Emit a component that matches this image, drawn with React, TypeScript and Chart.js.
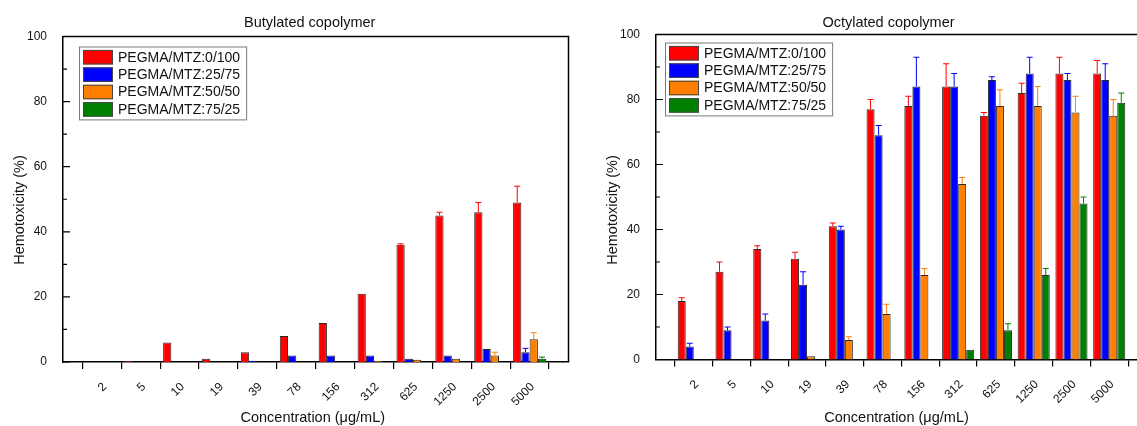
import React, { useEffect, useRef } from 'react';
import { Chart, registerables } from 'chart.js';

Chart.register(...registerables);

const FONT = '"Liberation Sans", Arial, Helvetica, sans-serif';

// ---- data ----
const concentrations = ['2', '5', '10', '19', '39', '78', '156', '312', '625', '1250', '2500', '5000'];
const seriesNames = ['PEGMA/MTZ:0/100', 'PEGMA/MTZ:25/75', 'PEGMA/MTZ:50/50', 'PEGMA/MTZ:75/25'];
const seriesColors = ['#FF0000', '#0000FF', '#FF8000', '#008000'];
const yTickValues = [0, 10, 20, 30, 40, 50, 60, 70, 80, 90, 100];

// Butylated copolymer
const butyl0_100 = [null, 0.3, 6, 1, 3, 8, 12, 21, 36, 45, 46, 49];
const butyl0_100Err = [0, 0, 0, 0, 0, 0, 0, 0, 0.3, 1, 3, 5];
const butyl25_75 = [null, null, null, null, 0.4, 2, 2, 2, 1, 2, 4, 3];
const butyl25_75Err = [0, 0, 0, 0, 0, 0, 0, 0, 0, 0, 0, 1.2];
const butyl50_50 = [null, null, null, null, null, null, null, 0.3, 0.7, 1, 2, 7];
const butyl50_50Err = [0, 0, 0, 0, 0, 0, 0, 0, 0, 0, 1, 2];
const butyl75_25 = [null, null, null, null, null, null, null, null, null, null, null, 1];
const butyl75_25Err = [0, 0, 0, 0, 0, 0, 0, 0, 0, 0, 0, 0.5];

// Octylated copolymer
const octyl0_100 = [18, 27, 34, 31, 41, 77, 78, 84, 75, 82, 88, 88];
const octyl0_100Err = [1, 3, 1, 2, 1, 3, 3, 7, 1, 3, 5, 4];
const octyl25_75 = [4, 9, 12, 23, 40, 69, 84, 84, 86, 88, 86, 86];
const octyl25_75Err = [1, 1, 2, 4, 1, 3, 9, 4, 1, 5, 2, 5];
const octyl50_50 = [null, null, null, 1, 6, 14, 26, 54, 78, 78, 76, 75];
const octyl50_50Err = [0, 0, 0, 0, 1, 3, 2, 2, 5, 6, 5, 5];
const octyl75_25 = [null, null, null, null, null, null, null, 3, 9, 26, 48, 79];
const octyl75_25Err = [0, 0, 0, 0, 0, 0, 0, 0, 2, 2, 2, 3];

type Spec = {
  title: string;
  values: (number | null)[][];
  errors: number[][];
  canvasW: number;
  yAxisW: number;
  padRight: number;
  padTop: number;
  xAxisH: number;
  titleDx: number;
  xTitleDx: number;
  legendDx: number;
  legendDy: number;
};

function buildChart(canvas: HTMLCanvasElement, spec: Spec) {
  const labels = ['', ...concentrations, ''];
  const datasets = spec.values.map((vals, i) => ({
    label: seriesNames[i],
    data: [null, ...vals, null],
    errors: [0, ...spec.errors[i], 0],
    backgroundColor: seriesColors[i],
    borderColor: '#2a2a2a',
    borderWidth: 1,
    borderSkipped: 'start',
    categoryPercentage: 0.85,
    barPercentage: 1,
  }));

  const decor = {
    id: 'decor',
    afterDatasetsDraw(chart: any) {
      const ctx = chart.ctx;
      const ys = chart.scales.y;
      chart.data.datasets.forEach((ds: any, i: number) => {
        const meta = chart.getDatasetMeta(i);
        meta.data.forEach((el: any, j: number) => {
          const v = ds.data[j];
          const e = ds.errors[j];
          if (v == null || !e) return;
          const yTop = ys.getPixelForValue(v + e);
          ctx.save();
          ctx.strokeStyle = seriesColors[i];
          ctx.lineWidth = 1;
          ctx.beginPath();
          ctx.moveTo(el.x, el.y);
          ctx.lineTo(el.x, yTop);
          ctx.moveTo(el.x - 3, yTop);
          ctx.lineTo(el.x + 3, yTop);
          ctx.stroke();
          ctx.restore();
        });
      });
    },
    afterDraw(chart: any) {
      const ctx = chart.ctx;
      const a = chart.chartArea;
      const ys = chart.scales.y;
      const xs = chart.scales.x;
      ctx.save();
      // frame top / right
      ctx.strokeStyle = '#000';
      ctx.lineWidth = 1.5;
      ctx.beginPath();
      ctx.moveTo(a.left, a.top);
      ctx.lineTo(a.right, a.top);
      ctx.lineTo(a.right, a.bottom);
      ctx.stroke();
      // inward y ticks
      ctx.lineWidth = 1.2;
      ctx.beginPath();
      yTickValues.forEach((v) => {
        const y = ys.getPixelForValue(v);
        const len = v % 20 === 0 ? 7 : 4;
        ctx.moveTo(a.left, y);
        ctx.lineTo(a.left + len, y);
      });
      ctx.stroke();
      // rotated x tick labels
      ctx.fillStyle = '#111';
      ctx.font = `12px ${FONT}`;
      ctx.textAlign = 'right';
      ctx.textBaseline = 'middle';
      concentrations.forEach((c, i) => {
        const x = xs.getPixelForValue(i + 1);
        ctx.save();
        ctx.translate(x + 3, a.bottom + 23);
        ctx.rotate(-Math.PI / 4);
        ctx.fillText(c, 0, 0);
        ctx.restore();
      });
      // titles
      ctx.textAlign = 'center';
      ctx.textBaseline = 'middle';
      ctx.font = `14.5px ${FONT}`;
      const cx = (a.left + a.right) / 2;
      ctx.fillText(spec.title, cx + spec.titleDx, 23);
      ctx.fillText('Concentration (\u03BCg/mL)', cx + spec.xTitleDx, 418);
      ctx.save();
      ctx.translate(a.left - 43, 210);
      ctx.rotate(-Math.PI / 2);
      ctx.fillText('Hemotoxicity (%)', 0, 0);
      ctx.restore();
      // legend
      ctx.font = `14px ${FONT}`;
      const names = chart.data.datasets.map((d: any) => d.label);
      const tw = Math.max(...names.map((n: string) => ctx.measureText(n).width));
      const bx = a.left + spec.legendDx;
      const by = a.top + spec.legendDy;
      const bw = 39 + tw + 6;
      const rowH = 17.4;
      const bh = 10.7 + rowH * 3 + 10;
      ctx.fillStyle = '#fff';
      ctx.fillRect(bx, by, bw, bh);
      ctx.strokeStyle = '#7a7a7a';
      ctx.lineWidth = 1;
      ctx.strokeRect(bx + 0.5, by + 0.5, bw, bh);
      names.forEach((n: string, i: number) => {
        const cy = by + 10.7 + i * rowH;
        ctx.fillStyle = seriesColors[i];
        ctx.fillRect(bx + 4, cy - 7.25, 30, 14.5);
        ctx.strokeStyle = '#444';
        ctx.strokeRect(bx + 4.5, cy - 6.75, 29, 13.5);
        ctx.fillStyle = '#111';
        ctx.textAlign = 'left';
        ctx.fillText(n, bx + 39, cy + 0.5);
      });
      ctx.restore();
    },
  };

  return new Chart(canvas, {
    type: 'bar',
    data: { labels, datasets: datasets as any },
    options: {
      animation: false,
      responsive: false,
      maintainAspectRatio: false,
      layout: { padding: { left: 0, right: spec.padRight, top: spec.padTop, bottom: 0 } },
      plugins: {
        legend: { display: false },
        title: { display: false },
        tooltip: { enabled: false },
      },
      scales: {
        x: {
          type: 'category',
          offset: false,
          grid: {
            display: true,
            drawOnChartArea: false,
            drawTicks: true,
            tickLength: 7,
            color: '#000',
            lineWidth: 1.2,
          },
          border: { display: true, color: '#000', width: 1.5 },
          ticks: { display: false, autoSkip: false },
          afterFit: (s: any) => {
            s.height = spec.xAxisH;
          },
        },
        y: {
          min: 0,
          max: 100,
          ticks: {
            stepSize: 10,
            padding: 8,
            color: '#111',
            font: { family: FONT, size: 12 },
            callback: (v: any) => (Number(v) % 20 === 0 ? String(v) : ''),
          },
          grid: { display: false },
          border: { display: true, color: '#000', width: 1.5 },
          afterFit: (s: any) => {
            s.width = spec.yAxisW;
          },
        },
      },
    } as any,
    plugins: [decor],
  });
}

const butylSpec: Spec = {
  title: 'Butylated copolymer',
  values: [butyl0_100, butyl25_75, butyl50_50, butyl75_25],
  errors: [butyl0_100Err, butyl25_75Err, butyl50_50Err, butyl75_25Err],
  canvasW: 580,
  yAxisW: 63,
  padRight: 11.5,
  padTop: 36.5,
  xAxisH: 64,
  titleDx: -6,
  xTitleDx: -3,
  legendDx: 16,
  legendDy: 10,
};

const octylSpec: Spec = {
  title: 'Octylated copolymer',
  values: [octyl0_100, octyl25_75, octyl50_50, octyl75_25],
  errors: [octyl0_100Err, octyl25_75Err, octyl50_50Err, octyl75_25Err],
  canvasW: 575,
  yAxisW: 71,
  padRight: 13,
  padTop: 34.5,
  xAxisH: 66.5,
  titleDx: -13,
  xTitleDx: -5,
  legendDx: 9,
  legendDy: 8,
};

function ChartCanvas({ spec, left }: { spec: Spec; left: number }) {
  const ref = useRef<HTMLCanvasElement | null>(null);
  useEffect(() => {
    if (!ref.current) return;
    const chart = buildChart(ref.current, spec);
    return () => chart.destroy();
  }, [spec]);
  return (
    <canvas
      ref={ref}
      width={spec.canvasW}
      height={426}
      style={{ position: 'absolute', left, top: 0, width: spec.canvasW, height: 426 }}
    />
  );
}

export default function App() {
  return (
    <div
      style={{
        position: 'fixed',
        left: 0,
        top: 0,
        width: 1137,
        height: 426,
        overflow: 'hidden',
        background: '#fff',
      }}
    >
      <ChartCanvas spec={butylSpec} left={0} />
      <ChartCanvas spec={octylSpec} left={585} />
    </div>
  );
}
